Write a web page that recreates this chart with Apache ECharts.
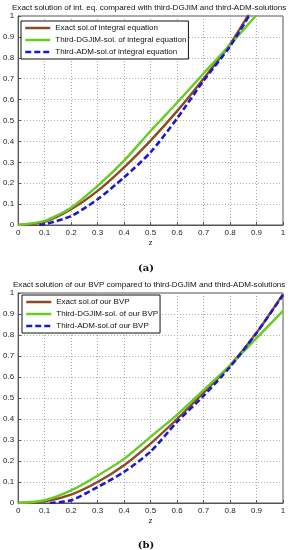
<!DOCTYPE html>
<html>
<head>
<meta charset="utf-8">
<script src="https://cdn.jsdelivr.net/npm/echarts@6/dist/echarts.min.js"></script>
<style>html,body{margin:0;padding:0;background:#fff;}#c{width:292px;height:550px;}</style>
</head>
<body>
<div id="c"></div>
<script>
// ---- data ----
var titleA = 'Exact solution of int. eq. compared with third-DGJIM and third-ADM-solutions';
var titleB = 'Exact solution of our BVP compared to third-DGJIM and third-ADM-solutions';
var namesA = ['Exact sol.of integral equation', 'Third-DGJIM-sol. of integral equation', 'Third-ADM-sol.of integral equation'];
var namesB = ['Exact sol.of our BVP', 'Third-DGJIM-sol. of our BVP', 'Third-ADM-sol.of our BVP'];
var captionA = '(a)';
var captionB = '(b)';
var axisName = 'z';

var zA = [0, 0.1, 0.2, 0.3, 0.4, 0.5, 0.6, 0.7, 0.8, 0.9];
var exactA = [0, 0.015, 0.075, 0.163, 0.276, 0.404, 0.545, 0.70, 0.865, 1.07];
var dgjimA = [0, 0.020, 0.083, 0.187, 0.308, 0.450, 0.585, 0.725, 0.862, 1.005];
var zAdmA = [0.08, 0.1, 0.2, 0.3, 0.4, 0.5, 0.6, 0.7, 0.8, 0.9];
var admA = [0, 0.003, 0.043, 0.123, 0.228, 0.348, 0.51, 0.69, 0.855, 1.06];

var zB = [0, 0.1, 0.2, 0.3, 0.4, 0.5, 0.6, 0.7, 0.8, 0.9, 1.0];
var exactB = [0, 0.008, 0.040, 0.100, 0.180, 0.283, 0.400, 0.525, 0.655, 0.810, 0.995];
var dgjimB = [0, 0.013, 0.060, 0.130, 0.210, 0.315, 0.420, 0.537, 0.655, 0.785, 0.915];
var zAdmB = [0.12, 0.2, 0.3, 0.4, 0.5, 0.6, 0.7, 0.8, 0.9, 1.0];
var admB = [0, 0.013, 0.076, 0.148, 0.245, 0.386, 0.51, 0.648, 0.81, 0.99];

var cExact = '#8c4a28', cDgjim = '#66cc22', cAdm = '#1a1acc';

function pairs(xs, ys) { return xs.map(function (x, i) { return [x, ys[i]]; }); }

var FONT = 'Liberation Sans';
function xAx(gi) {
  return {
    type: 'value', gridIndex: gi, min: 0, max: 1, interval: 0.1,
    name: axisName, nameLocation: 'middle', nameGap: 14,
    nameTextStyle: { fontFamily: FONT, fontSize: 8, color: '#222' },
    axisLine: { show: true, lineStyle: { color: '#555', width: 1 } },
    axisTick: { show: true, inside: true, length: 3, lineStyle: { color: '#555' } },
    axisLabel: { fontFamily: FONT, fontSize: 8, color: '#222', margin: 4 },
    splitLine: { show: true, lineStyle: { color: '#aaa', type: [1, 2], width: 1 } }
  };
}
function yAx(gi) {
  return {
    type: 'value', gridIndex: gi, min: 0, max: 1, interval: 0.1,
    axisLine: { show: true, lineStyle: { color: '#555', width: 1 } },
    axisTick: { show: true, inside: true, length: 3, lineStyle: { color: '#555' } },
    axisLabel: { fontFamily: FONT, fontSize: 8, color: '#222', margin: 4 },
    splitLine: { show: true, lineStyle: { color: '#aaa', type: [1, 2], width: 1 } }
  };
}
function ser(name, gi, data, color, dashed) {
  return {
    type: 'line', name: name, xAxisIndex: gi, yAxisIndex: gi, data: data,
    symbol: 'none', showSymbol: false, smooth: 0.25, clip: true,
    lineStyle: { color: color, width: dashed ? 2.6 : 2.4, type: dashed ? [6, 3] : 'solid' },
    itemStyle: { color: color }
  };
}
function leg(names, left, top) {
  return {
    show: true, type: 'plain',
    data: names, orient: 'vertical', left: left, top: top,
    itemWidth: 25, itemHeight: 8, itemGap: 4,
    backgroundColor: '#fff', borderColor: '#111', borderWidth: 1,
    padding: [3, 2, 3, 3],
    itemStyle: { opacity: 0 },
    lineStyle: { width: 2.5 },
    textStyle: { fontFamily: FONT, fontSize: 8, color: '#111' }
  };
}

var chart = echarts.init(document.getElementById('c'), null, { renderer: 'canvas' });
chart.setOption({
  backgroundColor: '#fff',
  animation: false,
  title: [
    { text: titleA, left: 7, top: -1, textStyle: { fontFamily: FONT, fontSize: 8.05, fontWeight: 'normal', color: '#111' } },
    { text: titleB, left: 8, top: 276, textStyle: { fontFamily: FONT, fontSize: 8.05, fontWeight: 'normal', color: '#111' } },
    { text: captionA, left: 'center', top: 258, textStyle: { fontFamily: 'DejaVu Serif', fontSize: 10, fontWeight: 'bold', color: '#111' } },
    { text: captionB, left: 'center', top: 535, textStyle: { fontFamily: 'DejaVu Serif', fontSize: 10, fontWeight: 'bold', color: '#111' } }
  ],
  grid: [
    { left: 17, right: 9, top: 16, height: 209, show: true, borderColor: '#555', borderWidth: 1, backgroundColor: 'transparent' },
    { left: 17, right: 9, top: 293, height: 210, show: true, borderColor: '#555', borderWidth: 1, backgroundColor: 'transparent' }
  ],
  xAxis: [xAx(0), xAx(1)],
  yAxis: [yAx(0), yAx(1)],
  legend: [leg(namesA, 21, 21), leg(namesB, 22, 295)],
  series: [
    ser(namesA[0], 0, pairs(zA, exactA), cExact, false),
    ser(namesA[1], 0, pairs(zA, dgjimA), cDgjim, false),
    ser(namesA[2], 0, pairs(zAdmA, admA), cAdm, true),
    ser(namesB[0], 1, pairs(zB, exactB), cExact, false),
    ser(namesB[1], 1, pairs(zB, dgjimB), cDgjim, false),
    ser(namesB[2], 1, pairs(zAdmB, admB), cAdm, true)
  ]
});
</script>
</body>
</html>
